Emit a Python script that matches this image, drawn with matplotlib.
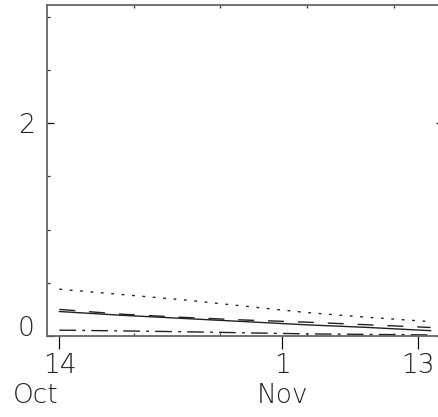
import matplotlib
matplotlib.use("Agg")
import matplotlib.pyplot as plt
import matplotlib.transforms as mtransforms

plt.rcParams['lines.scale_dashes'] = False
plt.rcParams['font.family'] = ['DejaVu Sans']

# days since 14 Oct
days = [0, 5, 10, 15, 20, 25, 30]
solid_vals = [0.23, 0.195, 0.165, 0.135, 0.105, 0.08, 0.05]
dashed_vals = [0.25, 0.205, 0.175, 0.15, 0.13, 0.105, 0.08]
dotted_vals = [0.44, 0.39, 0.34, 0.28, 0.22, 0.175, 0.135]
dashdot_vals = [0.055, 0.048, 0.04, 0.03, 0.02, 0.015, 0.01]

major_days = [0, 18, 29]
major_labels = ["14", "1", "13"]
minor_days = [6, 13, 18, 20, 27]
month_days = [-1.9, 18]
month_labels = ["Oct", "Nov"]
y_major = [0, 2]
y_major_labels = ["0", "2"]
y_minor = [0.5, 1.0, 1.5, 2.5, 3.0]

W, H = 438, 417
fig = plt.figure(figsize=(W / 100, H / 100), dpi=100)
left, right, top, bottom = 47, 443, 5, 336
ax = fig.add_axes([left / W, 1 - bottom / H, (right - left) / W, (bottom - top) / H])

line_col = "#222222"
ax.plot(days, solid_vals, color=line_col, lw=1.0)
ax.plot(days, dashed_vals, color=line_col, lw=1.0, dashes=(11.5, 10))
ax.plot(days, dotted_vals, color=line_col, lw=1.0, dashes=(2.0, 5.5))
ax.plot(days, dashdot_vals, color=line_col, lw=1.0, dashes=(12, 4.5, 2.0, 4.5))

ax.set_xlim(-1, 31)
ax.set_ylim(0, 3.11)

spine_col = "#666666"
for s in ax.spines.values():
    s.set_color(spine_col)
    s.set_linewidth(1.3)

fs = 19
ax.set_xticks(major_days)
ax.set_xticklabels(major_labels)
ax.set_xticks(minor_days, minor=True)
ax.tick_params(axis='x', which='major', direction='out', length=9.5, width=0.9,
               colors='#111111', labelsize=fs, pad=3, top=False)
ax.tick_params(axis='x', which='minor', direction='in', length=2, width=0.9,
               colors='#333333', top=True, bottom=True)

ax.set_yticks(y_major)
ax.set_yticklabels(y_major_labels)
ax.set_yticks(y_minor, minor=True)
ax.tick_params(axis='y', which='major', direction='in', length=5, width=0.9,
               colors='#111111', labelsize=fs, pad=9, right=True)
ax.tick_params(axis='y', which='minor', direction='in', length=2.5, width=0.9,
               colors='#333333', right=False)
for t in ax.get_yticklabels():
    if t.get_text() == "0":
        t.set_va('baseline')
for t in ax.get_xticklabels() + ax.get_yticklabels():
    t.set_color('#222222')
    t.set_fontweight('light')

trans = mtransforms.blended_transform_factory(ax.transData, fig.transFigure)
for d, lab in zip(month_days, month_labels):
    ax.text(d, 1 - 403 / H, lab, transform=trans, ha='center', va='baseline',
            fontsize=fs, color='#222222', fontweight='light')

fig.savefig("out.png", dpi=100)
